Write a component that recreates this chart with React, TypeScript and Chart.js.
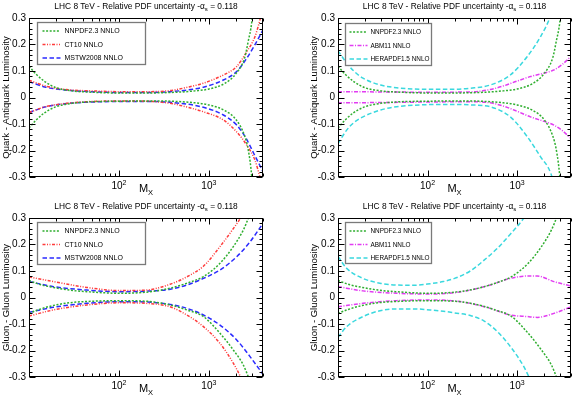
import React, { useEffect, useRef } from 'react';
import { Chart, registerables } from 'chart.js';

Chart.register(...registerables);

// ---------- Quark - Antiquark luminosity (top panels) ----------
const nnpdfQqM = [10, 12, 15, 20, 30, 50, 100, 200, 300, 500, 700, 1000, 1500, 2000, 2500, 2750, 3000, 3200];
const nnpdfQqUp = [0.118, 0.088, 0.06, 0.037, 0.025, 0.02, 0.017, 0.017, 0.018, 0.021, 0.025, 0.032, 0.053, 0.09, 0.15, 0.215, 0.285, 0.4];
const nnpdfQqDn = [-0.115, -0.085, -0.057, -0.035, -0.022, -0.016, -0.014, -0.013, -0.013, -0.016, -0.02, -0.028, -0.049, -0.083, -0.145, -0.2, -0.3, -0.45];

const ct10QqM = [10, 15, 20, 30, 50, 100, 200, 370, 600, 870, 1450, 2040, 2640, 3260, 3700, 4000];
const ct10QqUp = [0.065, 0.044, 0.035, 0.028, 0.025, 0.022, 0.022, 0.026, 0.04, 0.054, 0.085, 0.117, 0.173, 0.23, 0.293, 0.34];
const ct10QqDn = [-0.057, -0.035, -0.027, -0.02, -0.015, -0.013, -0.014, -0.022, -0.038, -0.054, -0.085, -0.13, -0.18, -0.237, -0.3, -0.34];

const mstwQqM = [10, 15, 20, 30, 50, 100, 200, 370, 870, 1450, 2040, 2600, 3200, 4000];
const mstwQqUp = [0.06, 0.04, 0.032, 0.026, 0.022, 0.019, 0.019, 0.022, 0.039, 0.066, 0.098, 0.145, 0.195, 0.255];
const mstwQqDn = [-0.057, -0.036, -0.028, -0.021, -0.017, -0.015, -0.015, -0.018, -0.037, -0.066, -0.104, -0.155, -0.215, -0.28];

const abmQqM = [10, 30, 100, 300, 500, 710, 1000, 1410, 2000, 2580, 3200, 4000];
const abmQqUp = [0.022, 0.021, 0.02, 0.021, 0.03, 0.044, 0.062, 0.079, 0.092, 0.104, 0.125, 0.155];
const abmQqDn = [-0.02, -0.019, -0.017, -0.016, -0.02, -0.033, -0.052, -0.073, -0.09, -0.104, -0.125, -0.155];

const heraQqM = [10, 12.5, 15, 19, 30, 45, 100, 200, 300, 500, 840, 1300, 1830, 2400, 2600];
const heraQqUp = [0.177, 0.13, 0.1, 0.073, 0.047, 0.037, 0.031, 0.031, 0.035, 0.047, 0.085, 0.155, 0.23, 0.315, 0.36];
const heraQqDn = [-0.174, -0.123, -0.095, -0.073, -0.047, -0.035, -0.027, -0.026, -0.028, -0.035, -0.073, -0.148, -0.224, -0.29, -0.34];

// ---------- Gluon - Gluon luminosity (bottom panels) ----------
const nnpdfGgM = [10, 13, 18.7, 28, 44, 103, 200, 370, 570, 870, 1330, 1870, 2420, 2750, 3100];
const nnpdfGgUp = [0.064, 0.05, 0.038, 0.028, 0.022, 0.016, 0.02, 0.035, 0.054, 0.079, 0.129, 0.192, 0.255, 0.3, 0.35];
const nnpdfGgDn = [-0.06, -0.045, -0.03, -0.02, -0.015, -0.012, -0.014, -0.028, -0.047, -0.072, -0.135, -0.198, -0.255, -0.3, -0.35];

const ct10GgM = [10, 18.7, 44, 103, 200, 370, 570, 870, 1330, 1870, 2250, 2500];
const ct10GgUp = [0.078, 0.06, 0.038, 0.026, 0.028, 0.05, 0.078, 0.118, 0.192, 0.26, 0.3, 0.33];
const ct10GgDn = [-0.07, -0.047, -0.028, -0.02, -0.022, -0.035, -0.066, -0.11, -0.173, -0.248, -0.3, -0.34];

const mstwGgM = [10, 18.7, 44, 103, 200, 370, 570, 870, 1330, 2040, 2870, 4000];
const mstwGgUp = [0.06, 0.041, 0.028, 0.022, 0.024, 0.031, 0.047, 0.072, 0.104, 0.154, 0.21, 0.28];
const mstwGgDn = [-0.056, -0.037, -0.022, -0.016, -0.017, -0.026, -0.041, -0.066, -0.104, -0.16, -0.223, -0.29];

const abmGgM = [10, 19, 45, 107, 200, 300, 500, 840, 1300, 1680, 2580, 4000];
const abmGgUp = [0.041, 0.025, 0.016, 0.013, 0.018, 0.028, 0.047, 0.072, 0.081, 0.081, 0.06, 0.043];
const abmGgDn = [-0.035, -0.022, -0.012, -0.009, -0.013, -0.022, -0.041, -0.066, -0.072, -0.075, -0.06, -0.035];

const heraGgM = [10, 12.5, 19, 29.5, 45, 70, 107, 150, 200, 300, 425, 600, 845, 1190, 1400];
const heraGgUp = [0.155, 0.11, 0.072, 0.054, 0.047, 0.046, 0.052, 0.06, 0.072, 0.1, 0.14, 0.185, 0.24, 0.3, 0.34];
const heraGgDn = [-0.15, -0.11, -0.072, -0.05, -0.043, -0.043, -0.047, -0.052, -0.058, -0.068, -0.088, -0.128, -0.186, -0.261, -0.31];

// ---------- axes / labels ----------
const xMin = 10;
const xMax = 4000;
const yMin = -0.3;
const yMax = 0.3;
const yStep = 0.02;
const xTickValues = [10, 20, 30, 40, 50, 60, 70, 80, 90, 100, 200, 300, 400, 500, 600, 700, 800, 900, 1000, 2000, 3000, 4000];
const xMajorTickValues = [10, 100, 1000];
const xTickLabels = [
  { value: 100, base: '10', exp: '2' },
  { value: 1000, base: '10', exp: '3' },
];
const titleMain = 'LHC 8 TeV - Relative PDF uncertainty -\u03b1';
const titleSub = 's';
const titleTail = ' = 0.118';
const xTitleMain = 'M';
const xTitleSub = 'X';
const yTitleQq = 'Quark - Antiquark Luminosity';
const yTitleGg = 'Gluon - Gluon Luminosity';

const FONT = '"Liberation Sans", Arial, Helvetica, sans-serif';

const STYLE = {
  nnpdf: { label: 'NNPDF2.3 NNLO', color: '#2fae2f', dash: [2, 1.6] },
  ct10: { label: 'CT10 NNLO', color: '#ff3b3b', dash: [3, 1.5, 1, 1.5, 1, 1.5] },
  mstw: { label: 'MSTW2008 NNLO', color: '#2a2aff', dash: [4.5, 2.5] },
  abm: { label: 'ABM11 NNLO', color: '#e23cf2', dash: [4, 1.5, 1, 1.5] },
  hera: { label: 'HERAPDF1.5 NNLO', color: '#3ad8de', dash: [4.5, 2.5] },
};

type Series = { key: keyof typeof STYLE; m: number[]; up: number[]; dn: number[] };

type PanelCfg = {
  left: number; top: number; width: number; height: number;
  area: { left: number; top: number; right: number; bottom: number };
  yTitle: string; yTitleX: number;
  legend: { dx: number; dy: number; w: number; h: number; s0: number; s1: number; tx: number; font: number };
  series: Series[];
};

const panels: PanelCfg[] = [
  {
    left: 0, top: 0, width: 286, height: 197,
    area: { left: 29, top: 18, right: 263, bottom: 177 },
    yTitle: yTitleQq, yTitleX: 6,
    legend: { dx: 8, dy: 4, w: 108, h: 42, s0: 5, s1: 23, tx: 27, font: 7 },
    series: [
      { key: 'nnpdf', m: nnpdfQqM, up: nnpdfQqUp, dn: nnpdfQqDn },
      { key: 'ct10', m: ct10QqM, up: ct10QqUp, dn: ct10QqDn },
      { key: 'mstw', m: mstwQqM, up: mstwQqUp, dn: mstwQqDn },
    ],
  },
  {
    left: 286, top: 0, width: 286, height: 197,
    area: { left: 52, top: 18, right: 285, bottom: 177 },
    yTitle: yTitleQq, yTitleX: 28,
    legend: { dx: 7, dy: 5, w: 86, h: 42, s0: 4, s1: 22, tx: 25, font: 6.4 },
    series: [
      { key: 'nnpdf', m: nnpdfQqM, up: nnpdfQqUp, dn: nnpdfQqDn },
      { key: 'abm', m: abmQqM, up: abmQqUp, dn: abmQqDn },
      { key: 'hera', m: heraQqM, up: heraQqUp, dn: heraQqDn },
    ],
  },
  {
    left: 0, top: 197, width: 286, height: 198,
    area: { left: 29, top: 21, right: 263, bottom: 180 },
    yTitle: yTitleGg, yTitleX: 6,
    legend: { dx: 8, dy: 4, w: 108, h: 42, s0: 5, s1: 23, tx: 27, font: 7 },
    series: [
      { key: 'nnpdf', m: nnpdfGgM, up: nnpdfGgUp, dn: nnpdfGgDn },
      { key: 'ct10', m: ct10GgM, up: ct10GgUp, dn: ct10GgDn },
      { key: 'mstw', m: mstwGgM, up: mstwGgUp, dn: mstwGgDn },
    ],
  },
  {
    left: 286, top: 197, width: 286, height: 198,
    area: { left: 52, top: 21, right: 285, bottom: 180 },
    yTitle: yTitleGg, yTitleX: 28,
    legend: { dx: 7, dy: 4, w: 86, h: 41, s0: 4, s1: 22, tx: 25, font: 6.4 },
    series: [
      { key: 'nnpdf', m: nnpdfGgM, up: nnpdfGgUp, dn: nnpdfGgDn },
      { key: 'abm', m: abmGgM, up: abmGgUp, dn: abmGgDn },
      { key: 'hera', m: heraGgM, up: heraGgUp, dn: heraGgDn },
    ],
  },
];

type Seg = { text: string; size: number; dy: number };

function drawRich(ctx: CanvasRenderingContext2D, segs: Seg[], x: number, y: number) {
  let total = 0;
  for (const s of segs) {
    ctx.font = `${s.size}px ${FONT}`;
    total += ctx.measureText(s.text).width;
  }
  let cx = x - total / 2;
  ctx.textAlign = 'left';
  ctx.textBaseline = 'alphabetic';
  for (const s of segs) {
    ctx.font = `${s.size}px ${FONT}`;
    ctx.fillText(s.text, cx, y + s.dy);
    cx += ctx.measureText(s.text).width;
  }
}

function makeDecor(cfg: PanelCfg) {
  return {
    id: 'decor',
    afterDatasetsDraw(chart: any) {
      const { ctx, chartArea: a, scales } = chart;
      const xs = scales.x;
      const ys = scales.y;
      ctx.save();
      ctx.fillStyle = '#000';
      ctx.strokeStyle = '#000';
      ctx.lineWidth = 1;
      ctx.setLineDash([]);
      // frame
      const L = Math.round(a.left) + 0.5;
      const R = Math.round(a.right) - 0.5;
      const T = Math.round(a.top) + 0.5;
      const B = Math.round(a.bottom) - 0.5;
      ctx.strokeRect(L, T, R - L, B - T);
      // y ticks
      ctx.beginPath();
      for (const t of ys.ticks) {
        const v = t.value;
        const major = Math.abs(Math.round(v * 10) - v * 10) < 1e-6;
        const len = major ? 6 : 3;
        const py = Math.round(ys.getPixelForValue(v)) + 0.5;
        ctx.moveTo(L, py); ctx.lineTo(L + len, py);
        ctx.moveTo(R, py); ctx.lineTo(R - len, py);
      }
      // x ticks
      for (const t of xs.ticks) {
        const v = t.value;
        const major = xMajorTickValues.includes(v);
        const len = major ? 6 : 3;
        const px = Math.round(xs.getPixelForValue(v)) + 0.5;
        ctx.moveTo(px, B); ctx.lineTo(px, B - len);
        ctx.moveTo(px, T); ctx.lineTo(px, T + len);
      }
      ctx.stroke();
      // x tick labels
      for (const lb of xTickLabels) {
        const px = xs.getPixelForValue(lb.value);
        drawRich(ctx, [
          { text: lb.base, size: 10, dy: 0 },
          { text: lb.exp, size: 7, dy: -4.5 },
        ], px, a.bottom + 12);
      }
      // x title
      drawRich(ctx, [
        { text: xTitleMain, size: 11, dy: 0 },
        { text: xTitleSub, size: 7.5, dy: 2.5 },
      ], (a.left + a.right) / 2, a.bottom + 15);
      // main title
      drawRich(ctx, [
        { text: titleMain, size: 8.4, dy: 0 },
        { text: titleSub, size: 6, dy: 1.8 },
        { text: titleTail, size: 8.4, dy: 0 },
      ], (a.left + a.right) / 2, a.top - 9);
      // y title
      ctx.save();
      ctx.translate(cfg.yTitleX, (a.top + a.bottom) / 2);
      ctx.rotate(-Math.PI / 2);
      ctx.font = `9.5px ${FONT}`;
      ctx.textAlign = 'center';
      ctx.textBaseline = 'middle';
      ctx.fillText(cfg.yTitle, 0, 0);
      ctx.restore();
      // legend
      const lg = cfg.legend;
      const bx = Math.round(a.left + lg.dx) + 0.5;
      const by = Math.round(a.top + lg.dy) + 0.5;
      ctx.fillStyle = '#fff';
      ctx.fillRect(bx, by, lg.w, lg.h);
      ctx.strokeStyle = '#7a7a7a';
      ctx.lineWidth = 1.3;
      ctx.strokeRect(bx, by, lg.w, lg.h);
      const items = chart.data.datasets.filter((d: any) => d.inLegend);
      items.forEach((d: any, i: number) => {
        const ry = by + 8.5 + i * 13.5;
        ctx.strokeStyle = d.borderColor;
        ctx.lineWidth = 1.5;
        ctx.setLineDash(d.borderDash);
        ctx.beginPath();
        ctx.moveTo(bx + lg.s0, ry);
        ctx.lineTo(bx + lg.s1, ry);
        ctx.stroke();
        ctx.setLineDash([]);
        ctx.fillStyle = '#000';
        ctx.font = `${lg.font}px ${FONT}`;
        ctx.textAlign = 'left';
        ctx.textBaseline = 'middle';
        ctx.fillText(d.label, bx + lg.tx, ry + 0.5);
      });
      ctx.restore();
    },
  };
}

function Panel({ cfg }: { cfg: PanelCfg }) {
  const ref = useRef<HTMLCanvasElement>(null);
  useEffect(() => {
    if (!ref.current) return;
    const datasets: any[] = [];
    for (const s of cfg.series) {
      const st = STYLE[s.key];
      const common = {
        borderColor: st.color,
        borderWidth: 1.5,
        borderDash: st.dash,
        pointRadius: 0,
        fill: false,
        cubicInterpolationMode: 'monotone',
        clip: 0,
      };
      datasets.push({ ...common, label: st.label, inLegend: true, data: s.m.map((x, i) => ({ x, y: s.up[i] })) });
      datasets.push({ ...common, label: st.label + ' (lower)', inLegend: false, data: s.m.map((x, i) => ({ x, y: s.dn[i] })) });
    }
    const chart = new Chart(ref.current, {
      type: 'line',
      data: { datasets },
      options: {
        responsive: false,
        animation: false,
        events: [],
        layout: { padding: { left: 0, top: cfg.area.top, right: cfg.width - cfg.area.right, bottom: 0 } },
        scales: {
          x: {
            type: 'logarithmic',
            min: xMin,
            max: xMax,
            grid: { display: false, drawTicks: false },
            border: { display: false },
            ticks: { display: false, autoSkip: false },
            afterBuildTicks: (s: any) => { s.ticks = xTickValues.map((v) => ({ value: v })); },
            afterFit: (s: any) => { s.height = cfg.height - cfg.area.bottom; },
          },
          y: {
            type: 'linear',
            min: yMin,
            max: yMax,
            grid: { display: false, drawTicks: false },
            border: { display: false },
            ticks: {
              stepSize: yStep,
              autoSkip: false,
              padding: 3,
              color: '#000',
              font: { family: FONT, size: 10 },
              callback: (v: any) => {
                const r = Math.round(Number(v) * 100);
                if (r % 10 !== 0) return '';
                return r === 0 ? '0' : (r / 100).toFixed(1);
              },
            },
            afterFit: (s: any) => { s.width = cfg.area.left; },
          },
        },
        plugins: { legend: { display: false }, tooltip: { enabled: false }, title: { display: false } },
      } as any,
      plugins: [makeDecor(cfg)],
    });
    return () => chart.destroy();
  }, [cfg]);
  return (
    <canvas
      ref={ref}
      width={cfg.width}
      height={cfg.height}
      style={{ position: 'absolute', left: cfg.left, top: cfg.top, width: cfg.width, height: cfg.height }}
    />
  );
}

export default function App() {
  return (
    <div style={{ position: 'fixed', left: 0, top: 0, width: 572, height: 395, background: '#fff', overflow: 'hidden' }}>
      {panels.map((p, i) => <Panel key={i} cfg={p} />)}
    </div>
  );
}
